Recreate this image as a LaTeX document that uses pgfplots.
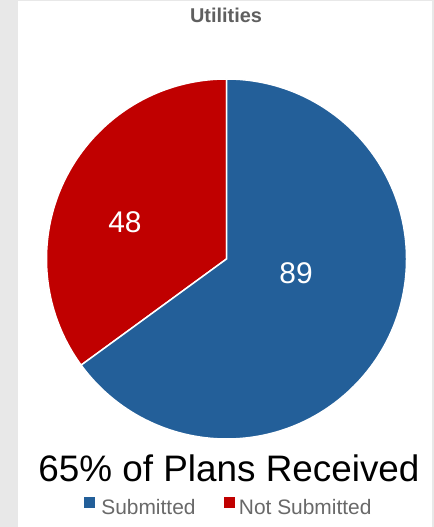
\documentclass[border=0pt]{standalone}
\usepackage{fontspec}
\setmainfont{Liberation Sans}
\usepackage{pgfplots}
\usepackage{pgfplotstable}
\pgfplotsset{compat=1.18}

\definecolor{cBlue}{RGB}{35,95,153}
\definecolor{cRed}{RGB}{192,0,0}
\definecolor{cTitle}{RGB}{95,95,95}
\definecolor{cLeg}{RGB}{105,105,105}
\definecolor{cBack}{RGB}{232,232,232}

% plans per status
\pgfplotstableread{
status value
Submitted 89
NotSubmitted 48
}\piedata

\begin{document}
\begin{tikzpicture}[x=1bp,y=1bp]
\fill[cBack] (0,0) rectangle (434,527);
\fill[white] (18,0) rectangle (432,526);
\pgfplotstablegetelem{0}{value}\of\piedata \let\vsub\pgfplotsretval
\pgfplotstablegetelem{1}{value}\of\piedata \let\vnot\pgfplotsretval
\pgfmathsetmacro{\frac}{\vnot/(\vsub+\vnot)}
\pgfmathsetmacro{\aend}{90+360*\frac}
\pgfmathsetmacro{\bend}{\aend-360}
\begin{axis}[
    at={(0,0)}, anchor=south west,
    x=1bp, y=1bp,
    xmin=-226.5, xmax=207.5, ymin=-268, ymax=259,
    hide axis, clip=false,
    legend columns=2,
    legend style={draw=none, fill=none, at={(0.527,0.037)}, anchor=center,
        font=\fontsize{21}{24}\selectfont, text=cLeg,
        /tikz/every even column/.append style={column sep=26bp}},
]
\fill[cRed, draw=white, line width=1.5bp] (axis cs:0,0) -- (axis cs:0,180)
    arc[start angle=90, end angle=\aend, radius=180bp] -- cycle;
\fill[cBlue, draw=white, line width=1.5bp] (axis cs:0,0) -- (axis cs:0,180)
    arc[start angle=90, end angle=\bend, radius=180bp] -- cycle;

\node[text=white, font=\fontsize{30}{30}\selectfont] at (axis cs:-101.5,37) {\vnot};
\node[text=white, font=\fontsize{30}{30}\selectfont] at (axis cs:69.5,-14) {\vsub};

\node[anchor=base, text=cTitle, font=\bfseries\fontsize{20}{22}\selectfont] at (axis cs:-0.5,236) {Utilities};
\node[anchor=base, text=black, font=\fontsize{37}{40}\selectfont] at (axis cs:2.5,-223) {65\% of Plans Received};

\addlegendimage{legend image code/.code={\fill[cBlue] (0bp,1bp) rectangle (10bp,11bp); \path (15bp,1bp);}}
\addlegendentry{Submitted}
\addlegendimage{legend image code/.code={\fill[cRed] (0bp,1bp) rectangle (10bp,11bp); \path (13bp,1bp);}}
\addlegendentry{Not Submitted}
\end{axis}
\end{tikzpicture}
\end{document}
